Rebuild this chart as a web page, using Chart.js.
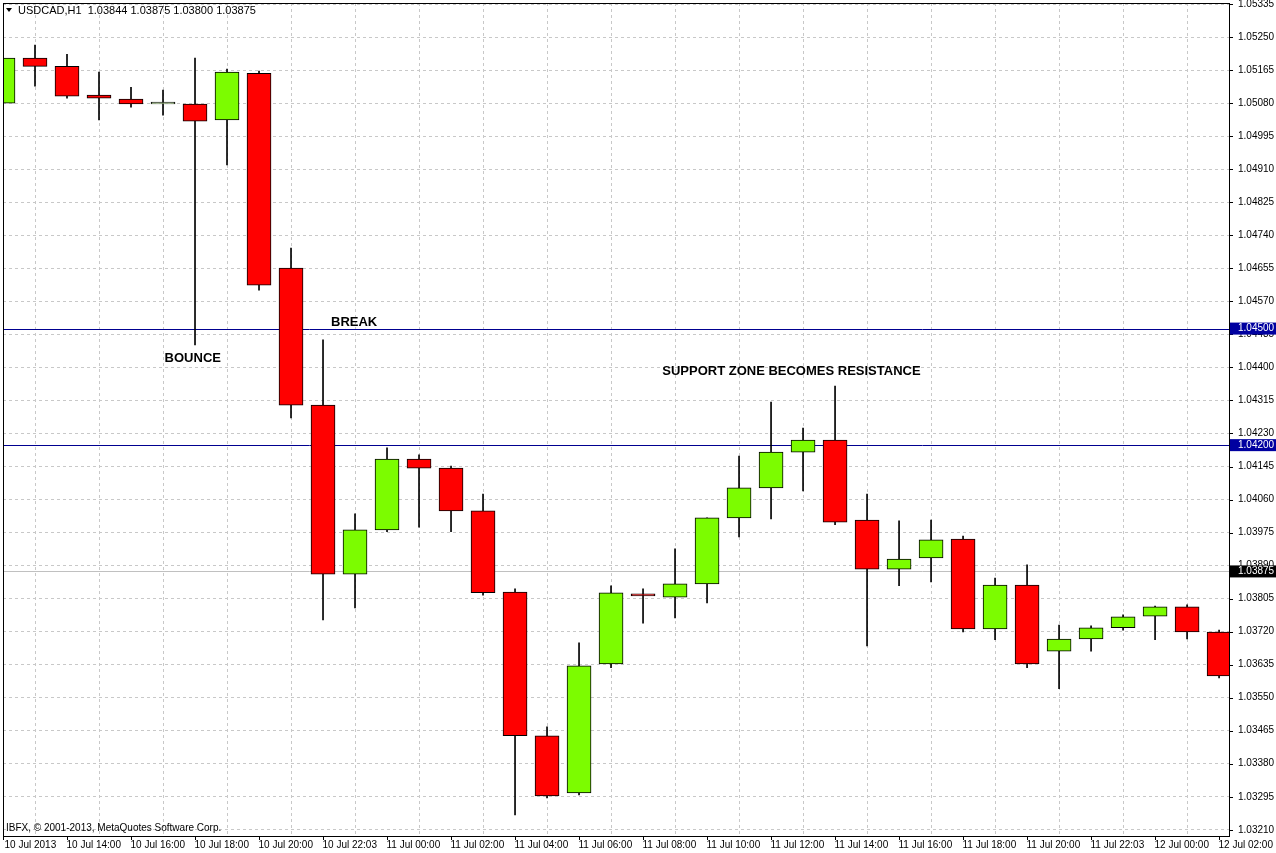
<!DOCTYPE html>
<html><head><meta charset="utf-8">
<script src="https://cdn.jsdelivr.net/npm/chart.js@4.4.0/dist/chart.umd.min.js"></script>
<style>html,body{margin:0;padding:0;background:#fff}#wrap{width:1276px;height:853px}</style>
</head><body><div id="wrap"><canvas id="c"></canvas></div>
<script>
const timeLabels = ["10 Jul 2013","10 Jul 14:00","10 Jul 16:00","10 Jul 18:00","10 Jul 20:00","10 Jul 22:03","11 Jul 00:00","11 Jul 02:00","11 Jul 04:00","11 Jul 06:00","11 Jul 08:00","11 Jul 10:00","11 Jul 12:00","11 Jul 14:00","11 Jul 16:00","11 Jul 18:00","11 Jul 20:00","11 Jul 22:03","12 Jul 00:00","12 Jul 02:00"];
const opens  = [1.05080,1.05196,1.05175,1.05101,1.05091,1.05078,1.05078,1.05037,1.05157,1.04656,1.04303,1.03868,1.03982,1.04164,1.04141,1.04031,1.03822,1.03452,1.03305,1.03637,1.03817,1.03809,1.03843,1.04013,1.04090,1.04182,1.04213,1.04007,1.03881,1.03910,1.03958,1.03727,1.03840,1.03670,1.03701,1.03730,1.03760,1.03784,1.03719];
const highs  = [1.05230,1.05230,1.05206,1.05160,1.05121,1.05114,1.05196,1.05168,1.05163,1.04707,1.04471,1.04023,1.04193,1.04175,1.04146,1.04074,1.03830,1.03475,1.03691,1.03838,1.03830,1.03933,1.04013,1.04172,1.04311,1.04244,1.04352,1.04074,1.04005,1.04007,1.03966,1.03858,1.03892,1.03737,1.03735,1.03763,1.03786,1.03789,1.03724];
const lows   = [1.05062,1.05124,1.05093,1.05037,1.05070,1.05049,1.04458,1.04921,1.04599,1.04270,1.03750,1.03781,1.03977,1.03989,1.03977,1.03814,1.03248,1.03292,1.03300,1.03627,1.03742,1.03755,1.03794,1.03964,1.04010,1.04082,1.03995,1.03683,1.03838,1.03848,1.03719,1.03699,1.03627,1.03573,1.03670,1.03724,1.03699,1.03701,1.03601];
const closes = [1.05196,1.05175,1.05098,1.05093,1.05078,1.05083,1.05034,1.05160,1.04612,1.04303,1.03868,1.03982,1.04164,1.04141,1.04031,1.03820,1.03452,1.03297,1.03632,1.03820,1.03812,1.03843,1.04013,1.04090,1.04182,1.04213,1.04002,1.03881,1.03907,1.03956,1.03727,1.03840,1.03637,1.03701,1.03730,1.03758,1.03784,1.03719,1.03606];
const levels = [1.04500, 1.04200];
const currentPrice = 1.03875;
const yTickStart = 1.03210, yTickStep = 0.00085, yTickCount = 26;
const notes = [
  {text:"BOUNCE", x:5.05, y:1.04422},
  {text:"BREAK", x:10.25, y:1.04517},
  {text:"SUPPORT ZONE BECOMES RESISTANCE", x:20.6, y:1.04390}
];

const wicks = opens.map((o,i)=>({x:i,y:[lows[i],highs[i]]}));
const bodies = opens.map((o,i)=>{
  let a=Math.min(o,closes[i]), b=Math.max(o,closes[i]);
  if (b-a<0.00003){b=a+0.00003;}
  return {x:i,y:[a,b]};
});
const bodyColors = opens.map((o,i)=> closes[i]>=o ? (i===5 ? '#c8f0a8':'#7cfc00') : '#ff0000');

const fmt = v => v.toFixed(5);
const overlay = {
  id:'overlay',
  beforeDatasetsDraw(ch){
    const {ctx,chartArea:a,scales:{y}}=ch;
    ctx.save();
    ctx.strokeStyle='#c0c0c0';ctx.lineWidth=1;
    let py=Math.round(y.getPixelForValue(currentPrice))+0.5;
    ctx.beginPath();ctx.moveTo(a.left,py);ctx.lineTo(a.right,py);ctx.stroke();
    ctx.strokeStyle='#000090';
    levels.forEach(l=>{let p=Math.round(y.getPixelForValue(l))+0.5;ctx.beginPath();ctx.moveTo(a.left,p);ctx.lineTo(a.right,p);ctx.stroke();});
    ctx.restore();
  },
  afterDraw(ch){
    const {ctx,chartArea:a,scales:{x,y}}=ch;
    ctx.save();
    ctx.strokeStyle='#000';ctx.lineWidth=1;ctx.setLineDash([]);
    ctx.strokeRect(a.left+0.5,a.top+0.5,a.right-a.left,a.bottom-a.top);
    ctx.fillStyle='#000';
    ctx.font='10px "Liberation Sans", Arial';ctx.textBaseline='middle';ctx.textAlign='left';
    for(let k=0;k<yTickCount;k++){const v=yTickStart+k*yTickStep;const p=y.getPixelForValue(v);
      ctx.beginPath();ctx.moveTo(a.right,Math.round(p)+0.5);ctx.lineTo(a.right+4,Math.round(p)+0.5);ctx.stroke();
      ctx.fillText(fmt(v),a.right+9,p);}
    ctx.textBaseline='top';
    timeLabels.forEach((t,i)=>{const p=Math.round(x.getPixelForValue(i*2))+0.5;
      ctx.beginPath();ctx.moveTo(p,a.bottom);ctx.lineTo(p,a.bottom+4);ctx.stroke();
      ctx.fillText(t,p+(i===0?1:-1),a.bottom+4);});
    ctx.textBaseline='middle';
    const box=(v,bg,fg)=>{let p=y.getPixelForValue(v);ctx.fillStyle=bg;ctx.fillRect(a.right+1,p-6,46,12);ctx.fillStyle=fg;ctx.fillText(fmt(v),a.right+9,p);};
    levels.forEach(l=>box(l,'#0000a0','#fff'));
    box(currentPrice,'#000','#fff');
    ctx.fillStyle='#000';ctx.font='bold 13px "Liberation Sans", Arial';
    notes.forEach(n=>ctx.fillText(n.text,x.getPixelForValue(n.x),y.getPixelForValue(n.y)));
    ctx.font='11px "Liberation Sans", Arial';
    ctx.fillText('USDCAD,H1  1.03844 1.03875 1.03800 1.03875',18,11);
    ctx.beginPath();ctx.moveTo(6,8);ctx.lineTo(12,8);ctx.lineTo(9,12);ctx.closePath();ctx.fill();
    ctx.font='10px "Liberation Sans", Arial';
    ctx.fillText('IBFX, \u00a9 2001-2013, MetaQuotes Software Corp.',6,828);
    ctx.restore();
  }
};

new Chart(document.getElementById('c'),{
  type:'bar',
  data:{datasets:[
    {data:wicks,backgroundColor:'#000',barThickness:1,grouped:false,order:2},
    {data:bodies,backgroundColor:bodyColors,borderColor:'#000',borderWidth:1,borderSkipped:false,barThickness:24,grouped:false,order:1}
  ]},
  options:{
    responsive:true,maintainAspectRatio:false,animation:false,
    layout:{padding:{left:3,top:3,right:0,bottom:0}},
    plugins:{legend:{display:false},tooltip:{enabled:false}},
    scales:{
      x:{type:'linear',min:0,max:38.31,offset:false,
        afterBuildTicks(s){s.ticks=timeLabels.map((t,i)=>({value:i*2}));},
        afterFit(s){s.height=17;},
        ticks:{display:false},
        grid:{color:'#c8c8c8',drawTicks:false},
        border:{display:false,dash:[3,3]}},
      y:{position:'right',min:1.03194,max:1.05338,
        afterBuildTicks(s){s.ticks=[];for(let k=0;k<yTickCount;k++)s.ticks.push({value:+(yTickStart+k*yTickStep).toFixed(5)});},
        afterFit(s){s.width=47;},
        ticks:{display:false},
        grid:{color:'#c8c8c8',drawTicks:false},
        border:{display:false,dash:[3,3]}}
    }
  },
  plugins:[overlay]
});
</script></body></html>
